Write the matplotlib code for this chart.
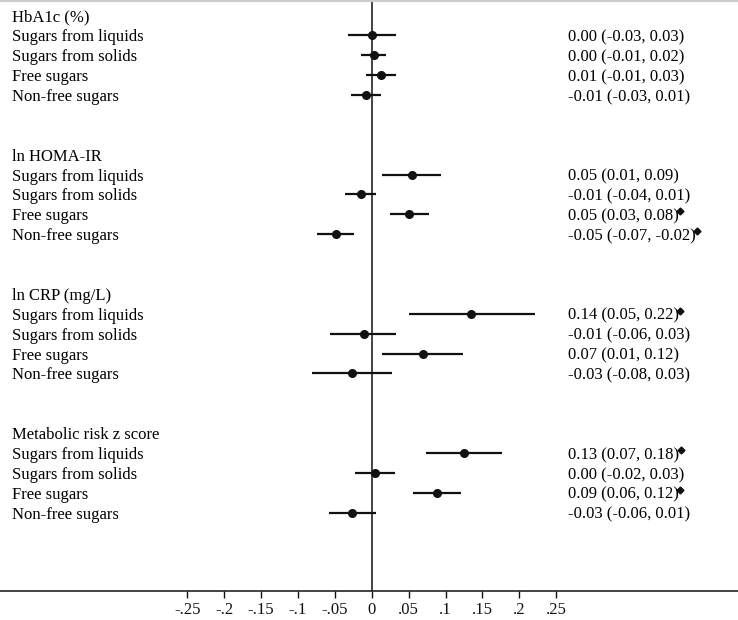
import matplotlib

matplotlib.use("Agg")
import matplotlib.pyplot as plt
from matplotlib.lines import Line2D

plt.rcParams["font.family"] = ["Liberation Serif", "DejaVu Serif"]

# outcome groups and exposures
groups = ["HbA1c (%)", "ln HOMA-IR", "ln CRP (mg/L)", "Metabolic risk z score"]
exposures = ["Sugars from liquids", "Sugars from solids", "Free sugars", "Non-free sugars"]

# point estimates and 95% CI per group
est = [
    [0.000, 0.003, 0.012, -0.008],
    [0.054, -0.015, 0.051, -0.049],
    [0.135, -0.011, 0.069, -0.027],
    [0.125, 0.004, 0.088, -0.027],
]
lo = [
    [-0.032, -0.014, -0.008, -0.028],
    [0.014, -0.036, 0.025, -0.074],
    [0.051, -0.056, 0.014, -0.081],
    [0.074, -0.022, 0.056, -0.058],
]
hi = [
    [0.033, 0.020, 0.033, 0.013],
    [0.094, 0.006, 0.077, -0.024],
    [0.221, 0.033, 0.123, 0.027],
    [0.176, 0.031, 0.121, 0.006],
]
labels = [
    ["0.00 (-0.03, 0.03)", "0.00 (-0.01, 0.02)", "0.01 (-0.01, 0.03)", "-0.01 (-0.03, 0.01)"],
    ["0.05 (0.01, 0.09)", "-0.01 (-0.04, 0.01)", "0.05 (0.03, 0.08)", "-0.05 (-0.07, -0.02)"],
    ["0.14 (0.05, 0.22)", "-0.01 (-0.06, 0.03)", "0.07 (0.01, 0.12)", "-0.03 (-0.08, 0.03)"],
    ["0.13 (0.07, 0.18)", "0.00 (-0.02, 0.03)", "0.09 (0.06, 0.12)", "-0.03 (-0.06, 0.01)"],
]
flagged = [
    [False, False, False, False],
    [False, False, True, True],
    [True, False, False, False],
    [True, False, True, False],
]

ticks = [-0.25, -0.2, -0.15, -0.1, -0.05, 0, 0.05, 0.1, 0.15, 0.2, 0.25]
tick_labels = ["-.25", "-.2", "-.15", "-.1", "-.05", "0", ".05", ".1", ".15", ".2", ".25"]

fig = plt.figure(figsize=(7.38, 6.2), dpi=100)
ax = fig.add_axes([0, 0.0468, 1, 0.9532])
ax.set_xlim(-0.5037, 0.4963)
ax.set_ylim(28.93, -0.77)

fs = 12
flag_texts = []
for g, name in enumerate(groups):
    base = g * 7
    ax.text(0.0163, base, name, transform=ax.get_yaxis_transform(),
            va="center_baseline", fontsize=fs)
    for i, exp in enumerate(exposures):
        y = base + i + 1
        ax.text(0.0163, y, exp, transform=ax.get_yaxis_transform(),
                va="center_baseline", fontsize=fs)
        ax.plot([lo[g][i], hi[g][i]], [y, y], color="#111111", lw=1.6, solid_capstyle="butt")
        ax.plot(est[g][i], y, marker="o", ms=5.5, color="#111111")
        t = ax.text(0.7696, y, labels[g][i], transform=ax.get_yaxis_transform(),
                    va="center_baseline", fontsize=fs)
        if flagged[g][i]:
            flag_texts.append(t)

ax.axvline(0, color="#111111", lw=1.1)

ax.set_xticks(ticks)
ax.set_xticklabels(tick_labels, fontsize=fs)
ax.set_yticks([])
ax.tick_params(axis="x", direction="out", length=5, width=1, pad=3, colors="#111111")
for side in ("top", "left", "right"):
    ax.spines[side].set_visible(False)
ax.spines["bottom"].set_linewidth(1.1)
ax.spines["bottom"].set_color("#111111")

fig.add_artist(Line2D([0, 1], [0.998, 0.998], transform=fig.transFigure, color="#cccccc", lw=1.5))

# small diamond flag at the upper right corner of flagged estimates
fig.canvas.draw()
renderer = fig.canvas.get_renderer()
for t in flag_texts:
    bb = t.get_window_extent(renderer)
    x, y = ax.transAxes.inverted().transform((bb.x1 + 1.5, bb.y1 - 3))
    ax.plot(x, y, marker="D", ms=3.5, color="#111111", transform=ax.transAxes, clip_on=False)

fig.savefig("out.png", dpi=100)
